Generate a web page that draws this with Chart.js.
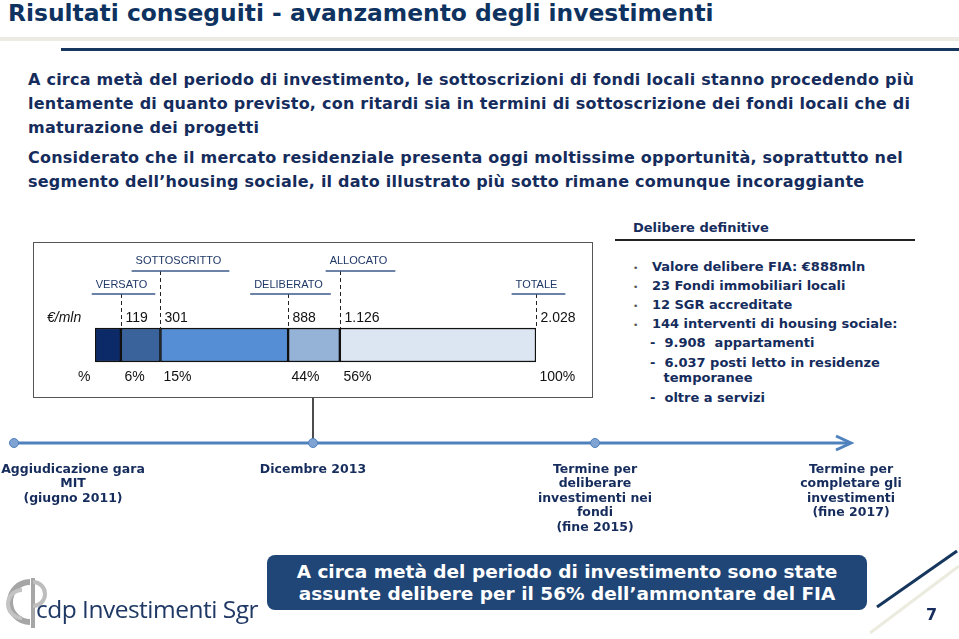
<!DOCTYPE html>
<html>
<head>
<meta charset="utf-8">
<script src="https://cdn.jsdelivr.net/npm/chart.js@4.4.1/dist/chart.umd.min.js"></script>
<style>
  body { margin: 0; width: 959px; height: 639px; background: #fff; position: relative; overflow: hidden;
         font-family: "DejaVu Sans", Verdana, sans-serif; }
  .abs { position: absolute; white-space: pre; }
  .navy { color: #152c5c; font-weight: bold; }
  .title { left: 8px; top: 2px; font-size: 23.4px; line-height: 22px; color: #0f3361; font-weight: bold; }
  .para { left: 28px; font-size: 16px; line-height: 24px; letter-spacing: 0.23px; }
  .side { font-size: 13px; line-height: 16px; }
  .bul { font-size: 9px; color: #555; font-weight: normal; }
  .tl { width: 200px; text-align: center; font-size: 12.5px; line-height: 14.4px; top: 462px; }
  #chartBox { position: absolute; left: 33px; top: 242px; width: 560px; height: 156px;
              border: 1px solid #555; box-sizing: border-box; }
  #chartBox canvas { position: absolute; left: 0; top: 0; }
  .msg { position: absolute; left: 267px; top: 555px; width: 600px; height: 55px; background: #1f4677;
         border-radius: 8px; color: #fff; font-weight: bold; font-size: 18.5px; line-height: 22px;
         text-align: center; padding-top: 6px; box-sizing: border-box; }
</style>
</head>
<body>

<div class="abs title">Risultati conseguiti - avanzamento degli investimenti</div>
<div style="position:absolute;left:0;top:37px;width:959px;height:4px;background:#ebebe4"></div>
<div style="position:absolute;left:61px;top:48px;width:898px;height:3px;background:#17365d"></div>

<div class="abs para navy" style="top:68px">A circa metà del periodo di investimento, le sottoscrizioni di fondi locali stanno procedendo più
lentamente di quanto previsto, con ritardi sia in termini di sottoscrizione dei fondi locali che di
maturazione dei progetti</div>
<div class="abs para navy" style="top:146px">Considerato che il mercato residenziale presenta oggi moltissime opportunità, soprattutto nel
segmento dell’housing sociale, il dato illustrato più sotto rimane comunque incoraggiante</div>

<!-- stacked bar -->
<div id="chartBox"><canvas id="barChart" width="558" height="154"></canvas></div>

<!-- right panel -->
<div class="abs side navy" style="left:633px;top:220px">Delibere definitive</div>
<div style="position:absolute;left:615px;top:239px;width:300px;height:2px;background:#222"></div>
<div class="abs side navy" style="left:633px;top:259px"><span class="bul">•</span>   Valore delibere FIA: €888mln</div>
<div class="abs side navy" style="left:633px;top:278px"><span class="bul">•</span>   23 Fondi immobiliari locali</div>
<div class="abs side navy" style="left:633px;top:297px"><span class="bul">•</span>   12 SGR accreditate</div>
<div class="abs side navy" style="left:633px;top:316px"><span class="bul">•</span>   144 interventi di housing sociale:</div>
<div class="abs side navy" style="left:650px;top:335px">-  9.908  appartamenti</div>
<div class="abs side navy" style="left:650px;top:355px;line-height:15px">-  6.037 posti letto in residenze
   temporanee</div>
<div class="abs side navy" style="left:650px;top:390px">-  oltre a servizi</div>

<!-- timeline -->
<svg style="position:absolute;left:0;top:0" width="959" height="639">
  <line x1="313" y1="398" x2="313" y2="443" stroke="#111" stroke-width="1.5"/>
  <line x1="14" y1="443" x2="850" y2="443" stroke="#4f81bd" stroke-width="3"/>
  <polyline points="836,436 851,443 836,450" fill="none" stroke="#4f81bd" stroke-width="3"/>
  <circle cx="14" cy="443" r="4.5" fill="#7fa3d3" stroke="#4f81bd"/>
  <circle cx="313" cy="443" r="4.5" fill="#7fa3d3" stroke="#4f81bd"/>
  <circle cx="595" cy="443" r="4.5" fill="#7fa3d3" stroke="#4f81bd"/>
  <!-- logo glyph -->
  <path d="M30,582 A20,20 0 1 0 30,622" fill="none" stroke="#a6a6a6" stroke-width="6"/>
  <path d="M22,590 A14,14 0 1 0 22,618" fill="none" stroke="#c4c4c4" stroke-width="4"/>
  <line x1="33" y1="578" x2="33" y2="628" stroke="#a6a6a6" stroke-width="4"/>
  <path d="M33,582 A12,12 0 1 1 33,606" fill="none" stroke="#bdbdbd" stroke-width="4"/>
  <!-- page corner -->
  <line x1="877" y1="607" x2="957" y2="551" stroke="#17365d" stroke-width="3"/>
  <line x1="870" y1="633" x2="959" y2="566" stroke="#ecebdf" stroke-width="3"/>
</svg>
<div class="abs tl navy" style="left:-27px">Aggiudicazione gara
MIT
(giugno 2011)</div>
<div class="abs tl navy" style="left:213px">Dicembre 2013</div>
<div class="abs tl navy" style="left:495px">Termine per
deliberare
investimenti nei
fondi
(fine 2015)</div>
<div class="abs tl navy" style="left:751px">Termine per
completare gli
investimenti
(fine 2017)</div>

<div class="msg">A circa metà del periodo di investimento sono state<br>assunte delibere per il 56% dell’ammontare del FIA</div>

<div class="abs" style="left:36px;top:594px;font-family:'Open Sans',Lato,sans-serif;font-size:24.5px;line-height:30px;color:#1f3864;letter-spacing:-0.5px">cdp Investimenti Sgr</div>
<div class="abs navy" style="left:926px;top:605px;font-size:16px">7</div>

<script>
// milestones along the fund amount (€ mln, cumulative)
const milestones = ['VERSATO', 'SOTTOSCRITTO', 'DELIBERATO', 'ALLOCATO', 'TOTALE'];
const cumulative = [119, 301, 888, 1126, 2028];
const valueLabels = ['119', '301', '888', '1.126', '2.028'];
const percentLabels = ['6%', '15%', '44%', '56%', '100%'];

const segColors = ['#0c2a68', '#3a639b', '#558ed5', '#95b3d7', '#dce6f2'];

// one dataset per slice of the bar
const datasets = cumulative.map((v, i) => ({
    label: milestones[i],
    data: [v - (i > 0 ? cumulative[i - 1] : 0)],
    backgroundColor: segColors[i],
    borderColor: '#111',
    borderWidth: 1.5,
    borderSkipped: false,
    barThickness: 34
}));

// dashed markers, headers and labels
const markerPlugin = {
    id: 'markers',
    afterDatasetsDraw(chart) {
        const ctx = chart.ctx;
        const xs = chart.scales.x;
        const bar = chart.getDatasetMeta(0).data[0];
        const barTop = bar.y - bar.height / 2;
        const valY = barTop - 10;
        const pctY = barTop + bar.height + 15;

        ctx.save();
        ctx.textBaseline = 'middle';

        ctx.font = 'italic 14px "Liberation Sans", Arial, sans-serif';
        ctx.fillStyle = '#111';
        ctx.textAlign = 'left';
        ctx.fillText('€/mln', 13, valY);
        ctx.font = '14px "Liberation Sans", Arial, sans-serif';
        ctx.fillText('%', 44, pctY);

        milestones.forEach((name, i) => {
            const x = Math.round(xs.getPixelForValue(cumulative[i])) + 0.5;
            const upper = i % 2 === 1;
            const lineY = upper ? 28 : 51;
            const textY = upper ? 18 : 42;

            // dashed drop line
            ctx.strokeStyle = '#222';
            ctx.lineWidth = 1;
            ctx.setLineDash([4, 3]);
            ctx.beginPath();
            ctx.moveTo(x, lineY);
            ctx.lineTo(x, barTop);
            ctx.stroke();
            ctx.setLineDash([]);

            // header
            ctx.font = '11px "Liberation Sans", Arial, sans-serif';
            const w = ctx.measureText(name).width;
            const cx = upper ? x + 18 : x;
            ctx.fillStyle = '#1f3864';
            ctx.textAlign = 'center';
            ctx.fillText(name, cx, textY);
            ctx.strokeStyle = '#3b5a8a';
            ctx.lineWidth = 1.5;
            ctx.beginPath();
            ctx.moveTo(cx - w / 2 - 4, lineY);
            ctx.lineTo(cx + w / 2 + 8, lineY);
            ctx.stroke();

            // values
            ctx.font = '14px "Liberation Sans", Arial, sans-serif';
            ctx.fillStyle = '#111';
            ctx.textAlign = 'left';
            ctx.fillText(valueLabels[i], x + 4, valY);
            ctx.fillText(percentLabels[i], x + 3, pctY);
        });
        ctx.restore();
    }
};

new Chart(document.getElementById('barChart'), {
    type: 'bar',
    data: { labels: ['FIA'], datasets: datasets },
    options: {
        indexAxis: 'y',
        responsive: false,
        animation: false,
        layout: { padding: { left: 61, right: 56, top: 68, bottom: 18 } },
        scales: {
            x: { stacked: true, min: 0, max: cumulative[cumulative.length - 1], display: false },
            y: { stacked: true, display: false }
        },
        plugins: { legend: { display: false }, tooltip: { enabled: false } }
    },
    plugins: [markerPlugin]
});
</script>
</body>
</html>
